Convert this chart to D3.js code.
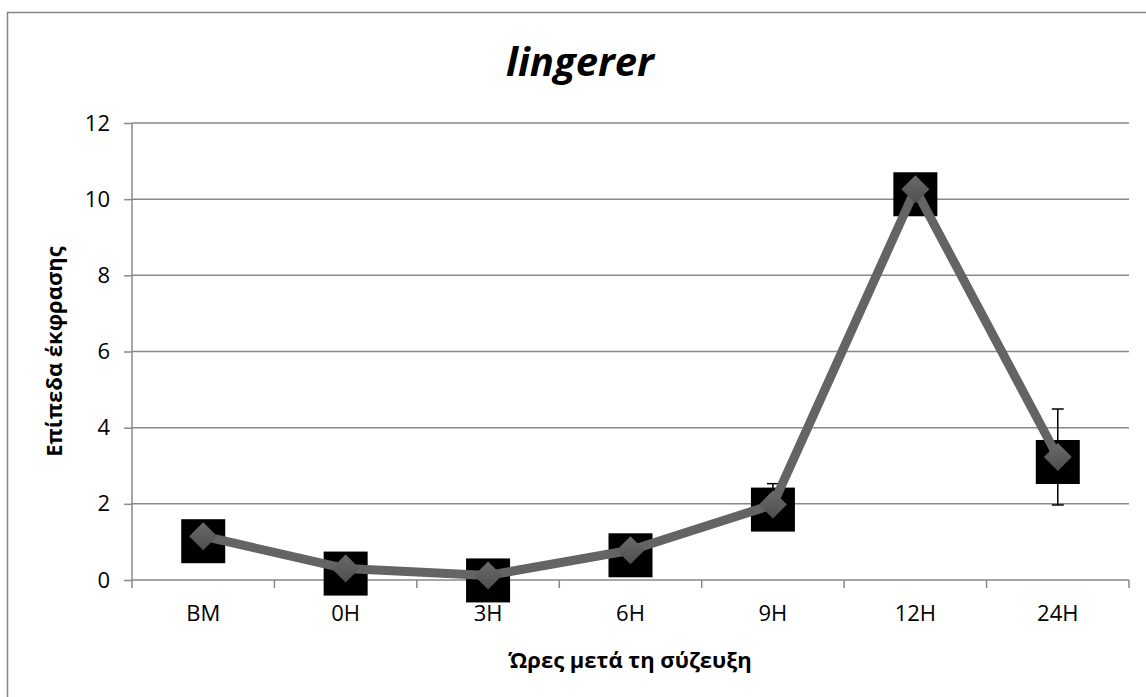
<!DOCTYPE html>
<html>
<head>
<meta charset="utf-8">
<script src="https://cdn.jsdelivr.net/npm/d3@7"></script>
<style>
  body { margin: 0; background: #fff; }
  text { font-family: "Open Sans", "Noto Sans", sans-serif; fill: #000; }
</style>
</head>
<body>
<div id="viz"></div>
<script>
var W = 1146, H = 697;

// data
var categories = ["BM", "0H", "3H", "6H", "9H", "12H", "24H"];
var values = [1.15, 0.3, 0.12, 0.78, 1.98, 10.26, 3.23];
var errors = [0.15, 0.1, 0.05, 0.15, 0.55, 0.15, 1.26];
var yTicks = [0, 2, 4, 6, 8, 10, 12];

var svg = d3.select("#viz").append("svg")
    .attr("width", W)
    .attr("height", H);

// outer frame (only top and left edges show)
svg.append("rect")
    .attr("x", 7.5).attr("y", 12.5)
    .attr("width", 1300).attr("height", 900)
    .attr("fill", "none")
    .attr("stroke", "#868686")
    .attr("stroke-width", 1.5);

var pLeft = 132, pRight = 1129, pTop = 123, pBottom = 580;

var x = d3.scaleBand().domain(categories).range([pLeft, pRight]);
var y = d3.scaleLinear().domain([0, 12]).range([pBottom, pTop]);

// gridlines
svg.append("g").selectAll("line")
    .data(yTicks.slice(1))
    .join("line")
    .attr("x1", pLeft).attr("x2", pRight)
    .attr("y1", d => y(d)).attr("y2", d => y(d))
    .attr("stroke", "#898989")
    .attr("stroke-width", 1.5);

// y axis
var yAxis = svg.append("g")
    .attr("transform", "translate(" + pLeft + ",0)")
    .call(d3.axisLeft(y).tickValues(yTicks).tickSize(8).tickPadding(14));
yAxis.selectAll("line, path").attr("stroke", "#898989").attr("stroke-width", 1.5);
yAxis.select(".domain").attr("d", "M0," + pTop + "V" + pBottom);
yAxis.selectAll("text").style("font-size", "22px").style("font-family", "'Open Sans', sans-serif").attr("fill", "#000");

// x axis
var xAxis = svg.append("g")
    .attr("transform", "translate(0," + pBottom + ")")
    .call(d3.axisBottom(x).tickSize(0).tickPadding(25));
xAxis.select(".domain").attr("d", "M" + pLeft + ",0H" + pRight).attr("stroke", "#898989").attr("stroke-width", 1.5);
xAxis.selectAll("text").style("font-size", "22px").style("font-family", "'Open Sans', sans-serif").attr("fill", "#000");
// tick marks at category boundaries
var bounds = categories.map(c => x(c)).concat([pRight]);
xAxis.selectAll(".bound")
    .data(bounds)
    .join("line")
    .attr("class", "bound")
    .attr("x1", d => d).attr("x2", d => d)
    .attr("y1", 0).attr("y2", 8)
    .attr("stroke", "#898989")
    .attr("stroke-width", 1.5);

var cx = d => x(d) + x.bandwidth() / 2;

// error bars
var eb = svg.append("g");
categories.forEach(function (c, i) {
    var px = cx(c), y1 = y(values[i] + errors[i]), y0 = y(values[i] - errors[i]);
    eb.append("line").attr("x1", px).attr("x2", px).attr("y1", y1).attr("y2", y0)
        .attr("stroke", "#000").attr("stroke-width", 1.5);
    [y1, y0].forEach(function (yy) {
        eb.append("line").attr("x1", px - 6).attr("x2", px + 6).attr("y1", yy).attr("y2", yy)
            .attr("stroke", "#000").attr("stroke-width", 1.5);
    });
});

// black square markers
svg.append("g").selectAll("rect")
    .data(values)
    .join("rect")
    .attr("x", (d, i) => cx(categories[i]) - 22)
    .attr("y", d => y(d) - 22 + 5)
    .attr("width", 44).attr("height", 44)
    .attr("fill", "#000");

// line
var line = d3.line()
    .x((d, i) => cx(categories[i]))
    .y(d => y(d));
svg.append("path")
    .datum(values)
    .attr("d", line)
    .attr("fill", "none")
    .attr("stroke", "#646464")
    .attr("stroke-width", 9)
    .attr("stroke-linejoin", "round");

// diamonds
var defs = svg.append("defs");
var grad = defs.append("linearGradient").attr("id", "dg")
    .attr("x1", "0").attr("y1", "0").attr("x2", "0").attr("y2", "1");
grad.append("stop").attr("offset", "0").attr("stop-color", "#6a6a6a");
grad.append("stop").attr("offset", "1").attr("stop-color", "#4e4e4e");

svg.append("g").selectAll("path")
    .data(values)
    .join("path")
    .attr("transform", (d, i) => "translate(" + cx(categories[i]) + "," + y(d) + ")")
    .attr("d", "M0,-14L14,0L0,14L-14,0Z")
    .attr("fill", "url(#dg)");

// titles
svg.append("text")
    .attr("x", 580).attr("y", 76)
    .attr("text-anchor", "middle")
    .style("font-size", "40px")
    .style("font-weight", "bold")
    .style("font-style", "italic")
    .text("lingerer");

svg.append("text")
    .attr("x", 630).attr("y", 668)
    .attr("text-anchor", "middle")
    .style("font-size", "22px")
    .style("font-weight", "bold")
    .text("Ώρες μετά τη σύζευξη");

svg.append("text")
    .attr("transform", "translate(62," + ((pTop + pBottom) / 2) + ") rotate(-90)")
    .attr("text-anchor", "middle")
    .style("font-size", "22px")
    .style("font-weight", "bold")
    .text("Επίπεδα έκφρασης");
</script>
</body>
</html>
